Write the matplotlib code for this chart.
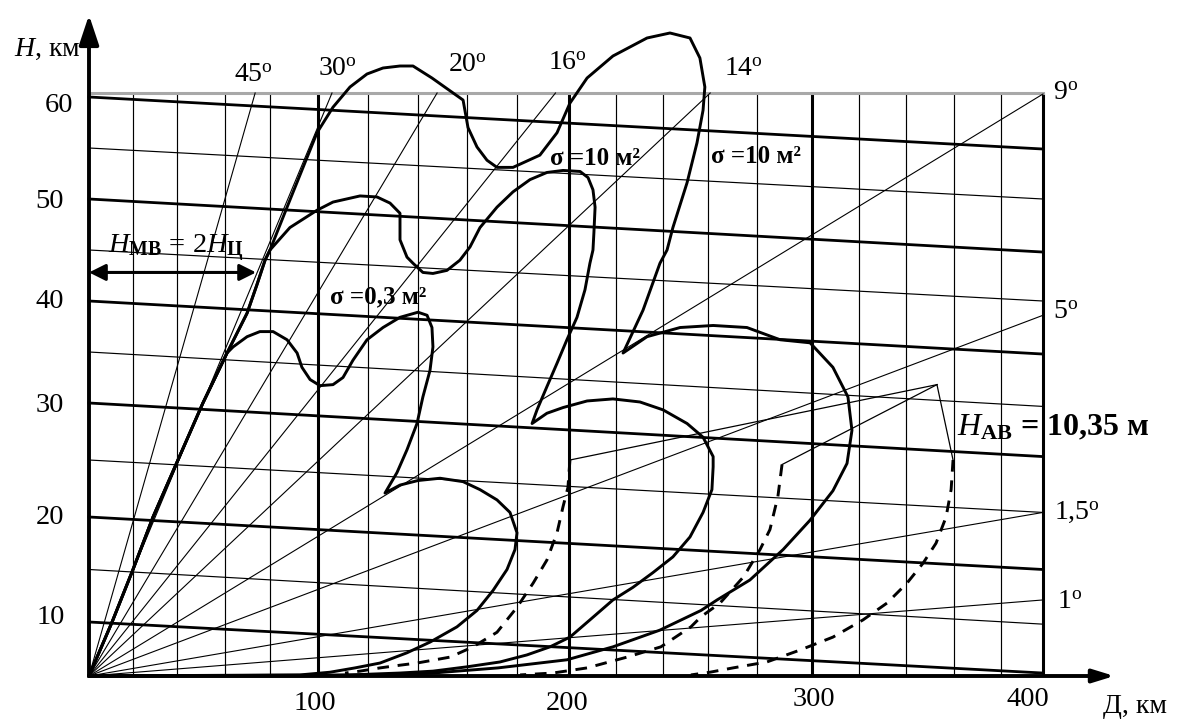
import numpy as np
import matplotlib.pyplot as plt

plt.rcParams['font.family'] = ['Liberation Serif', 'DejaVu Serif']
plt.rcParams['mathtext.fontset'] = 'custom'
plt.rcParams['mathtext.rm'] = 'Liberation Serif'
plt.rcParams['mathtext.it'] = 'Liberation Serif:italic'
plt.rcParams['mathtext.bf'] = 'Liberation Serif:bold'

# ---- values: Д (range) and H (height), km ----
d_ticks = [100, 200, 300, 400]
h_ticks = [10, 20, 30, 40, 50, 60]
d_grid = list(range(20, 400, 20))

# lines of equal height (value at Д=0 and at Д=400)
h_thick_left = [10, 20, 30, 40, 50, 60]
h_thick_right = [0.55, 15.0, 25.3, 34.8, 44.8, 54.9]
h_thin_left = [15, 25, 35, 45, 55]
h_thin_right = [9.6, 20.4, 29.7, 40.0, 50.0]
h_top = 60.4

# elevation rays
ray_names = ['45', '30', '20', '16', '14', '9', '5', '1,5', '1']
ray_d = [73.4, 105.6, 147.8, 194.8, 260.9, 400, 400, 400, 400]
ray_h = [60.4, 60.4, 60.4, 60.4, 60.4, 60.3, 38.6, 20.4, 12.1]

# common rising edge of all coverage zones
rise_d = [0, 10.5, 20, 29.1, 40.4, 50.8, 60.9]
rise_h = [0, 10, 15, 20, 25, 30, 34.9]

# zone sigma = 0.3 m2
s03_d = [63.6, 69.8, 75.5, 81.3, 87.1, 91.3, 93.3, 96.7, 100.8, 106, 110, 114,
         119.6, 126, 132.8, 140, 143.7, 145.7, 146.1, 144.9, 142, 139.6, 135.6,
         131.6, 126.8, 132.8, 140, 149, 158.4, 165.2, 172, 177.2, 180, 179.2,
         176, 170.4, 164, 155.9, 145, 135.6, 124.8, 114.8, 104.8, 92.5, 0]
s03_h = [35.5, 36.5, 37.0, 37.0, 36.2, 34.9, 33.5, 32.3, 31.7, 31.8, 32.5, 34.2,
         36.2, 37.4, 38.4, 38.9, 38.6, 37.4, 35.5, 33.2, 30.6, 28.2, 25.9,
         23.9, 22.1, 22.8, 23.2, 23.4, 23.1, 22.4, 21.5, 20.4, 18.5, 16.9,
         15.0, 13.0, 11.1, 9.1, 6.3, 4.3, 2.4, 1.5, 0.7, 0.2, 0]

# zone sigma = 10 m2 (inner)
s10a_d = [69.8, 74.2, 77.8, 80, 88.3, 99.6, 106, 116.8, 123.6, 128.8, 132.8,
          132.8, 135.6, 138, 142, 146.1, 151.8, 157.1, 161.2, 165.2, 172, 178.4,
          185, 191.5, 197.7, 204.7, 208.1, 210.2, 211.1, 210.6, 210.2, 208.9,
          206.8, 203.4, 199.2, 195.4, 191.5, 187.7, 185.8, 191.5, 197.7, 207.7,
          218.7, 230.2, 240, 250.7, 257.8, 262.1, 262.1, 261.6, 257.8, 252,
          244.4, 235.7, 227.2, 218.7, 208.9, 200.4, 192.7, 183.8, 173.2, 160,
          146.1, 132.8, 112.8, 92.5, 0]
s10a_h = [38.8, 41.6, 44.0, 45.0, 47.2, 48.9, 49.7, 50.3, 50.2, 49.6, 48.6,
          46.0, 44.3, 43.7, 42.8, 42.7, 43.0, 44.0, 45.3, 47.2, 49.2, 50.7,
          51.9, 52.6, 52.8, 52.7, 52.1, 50.9, 49.2, 46.7, 45.0, 43.7,
          41.1, 38.4, 36.2, 33.9, 31.6, 29.4, 28.2, 29.1, 29.6, 30.2,
          30.4, 30.1, 29.4, 28.2, 27.0, 25.3, 24.4, 22.4, 20.4, 18.1,
          16.2, 14.7, 13.3, 12.1, 10.2, 7.2, 5.4, 3.9, 2.6, 1.7,
          0.9, 0.55, 0.2, 0, 0]

# zone sigma = 10 m2 (outer)
s10b_d = [69.8, 74.2, 77.8, 80, 88.3, 99.6, 106, 112.8, 119.6, 126, 132.8, 138,
          145.7, 158.4, 160.4, 164, 168, 172, 178.4, 188.8, 195.4, 200.4, 207.7,
          218.7, 233.2, 243.1, 252, 256.4, 258.6, 257.8, 255.1, 250.7, 244.4,
          241.8, 238.7, 231.5, 223, 233.2, 247.6, 262.1, 275.9, 288.4, 299.3,
          308.9, 315.3, 317, 314.9, 308.9, 299.3, 289.5, 277.1, 263.7, 256.9,
          238.7, 218.7, 199.2, 172.4, 146.1, 132.8, 0]
s10b_h = [38.8, 41.6, 44.0, 45.0, 49.9, 56.5, 59.0, 61.0, 62.3, 62.9, 63.1, 63.1,
          61.9, 59.7, 57.0, 55.1, 53.8, 53.1, 53.1, 54.3, 56.5, 59.4, 61.9,
          64.1, 65.9, 66.4, 65.9, 63.9, 61.0, 58.7, 55.5, 51.6, 47.2,
          45.0, 43.7, 39.1, 34.9, 36.5, 37.4, 37.6, 37.4, 36.2, 35.9,
          33.5, 30.6, 27.6, 24.7, 22.3, 19.7, 16.9, 14.0, 12.1, 11.1,
          8.5, 5.4, 3.0, 1.5, 0.55, 0.2, 0]

# dashed zones for antenna height 10,35 m
dash1_d = [200.4, 199.6, 197.7, 195.4, 191.5, 186.2, 180, 172, 162.4, 153.1,
           139.6, 132.8, 124.8, 116.8, 110.8]
dash1_h = [25.0, 22.6, 20.9, 18.5, 15.9, 13.7, 11.4, 8.1, 5.4, 3.5,
           2.4, 2.0, 1.5, 0.9, 0.55]
dash2_d = [289.1, 287.6, 284.7, 281.1, 274.5, 264.9, 256.9, 252.4, 239.1, 224.7,
           207.7, 193.8, 181.2]
dash2_h = [24.6, 21.8, 18.8, 16.9, 14.3, 11.8, 10.5, 9.1, 5.4, 3.5,
           1.5, 0.55, 0.2]
dash3_d = [359.6, 358.8, 356.7, 352.5, 347.1, 340.4, 331.9, 321.7, 308.9, 295.6,
           283.6, 270.2, 260.8, 252.4]
dash3_h = [25.0, 22.4, 20.0, 17.5, 15.6, 13.7, 11.8, 10.2, 7.2, 4.8,
           2.6, 1.5, 0.7, 0.2]
leader_d, leader_h = 352.9, 31.8

# ---- hand-drawn scale of the original (km -> picture units) ----
grid_knots = [89, 133, 177, 225, 270, 318, 368, 418, 467, 517, 569, 616, 663,
              708, 757, 812, 859, 906, 954, 1001, 1043]
xk_km = np.r_[-1000, np.arange(0, 401, 20), 1400]
xk_u = np.r_[89 - 2200, grid_knots, 1043 + 2100]
yk_km = np.array([-1000, 0, 10, 20, 30, 40, 50, 60, 1000])
yk_u = np.array([46 - 5400, 46, 100, 205, 319, 421, 523, 625, 625 + 9400])


def fwd_x(v):
    return np.interp(v, xk_km, xk_u)


def inv_x(u):
    return np.interp(u, xk_u, xk_km)


def fwd_y(v):
    return np.interp(v, yk_km, yk_u)


def inv_y(u):
    return np.interp(u, yk_u, yk_km)


fig = plt.figure(figsize=(11.77, 7.22), dpi=100)
ax = fig.add_axes([0, 0, 1, 1])
ax.set_xscale('function', functions=(fwd_x, inv_x))
ax.set_yscale('function', functions=(fwd_y, inv_y))
ax.set_xlim(inv_x(0), inv_x(1177))
ax.set_ylim(inv_y(0), inv_y(722))
ax.axis('off')

# grid
ax.vlines([d for d in d_grid if d % 100], 0, h_top, colors='k', lw=0.85)
ax.vlines(d_ticks, 0, h_top, colors='k', lw=2.2)
for hl, hr in zip(h_thin_left, h_thin_right):
    ax.plot([0, 400], [hl, hr], color='k', lw=0.85)
for hl, hr in zip(h_thick_left, h_thick_right):
    ax.plot([0, 400], [hl, hr], color='k', lw=2.0)
ax.plot([0, 400], [h_top, h_top], color='#a8a8a8', lw=2.2)

# rays and their labels
ray_offsets = [(-2, 17), (5, 24), (30, 28), (12, 29), (33, 24),
               (23, 0), (23, 3), (34, 0), (27, -3)]
for name, d, h, off in zip(ray_names, ray_d, ray_h, ray_offsets):
    ax.plot([0, d], [0, h], color='k', lw=0.8)
    ax.annotate(name + r'$^{\mathrm{o}}$', xy=(d, h), xytext=off,
                textcoords='offset pixels', ha='center', va='center', fontsize=20)

# coverage zones
for dd, hh in [(s03_d, s03_h), (s10a_d, s10a_h), (s10b_d, s10b_h)]:
    ax.plot(rise_d + dd, rise_h + hh, color='k', lw=2.1, solid_joinstyle='round')
for dd, hh in [(dash1_d, dash1_h), (dash2_d, dash2_h), (dash3_d, dash3_h)]:
    ax.plot(dd, hh, color='k', lw=2.1, linestyle=(0, (4, 3)))
    ax.plot([leader_d, dd[0]], [leader_h, hh[0]], color='k', lw=0.9)

# axes with arrows
ax.annotate('', xy=(0, 68.2), xytext=(0, 0),
            arrowprops=dict(arrowstyle='-|>,head_length=0.9,head_width=0.3',
                            lw=2.8, color='k', shrinkA=0, shrinkB=0, mutation_scale=20))
ax.annotate('', xy=(434, 0), xytext=(0, 0),
            arrowprops=dict(arrowstyle='-|>,head_length=0.65,head_width=0.2',
                            lw=2.8, color='k', shrinkA=0, shrinkB=0, mutation_scale=20))

x_off = [(-3, -27), (-2, -27), (2, -24), (-15, -24)]
for d, off in zip(d_ticks, x_off):
    ax.annotate(str(d), xy=(d, 0), xytext=off, textcoords='offset pixels',
                ha='center', va='center', fontsize=20.5)
y_off = [(-38, 5), (-39, 0), (-39, -2), (-39, -1), (-39, -3), (-30, -8)]
for h, off in zip(h_ticks, y_off):
    ax.annotate(str(h), xy=(0, h), xytext=off, textcoords='offset pixels',
                ha='center', va='center', fontsize=20.5)

ax.text(-19.1, 64.8, r'$H$, км', ha='center', va='center', fontsize=20)
ax.text(443.8, -5.7, 'Д, км', ha='center', va='center', fontsize=20)

# annotations
ax.text(211, 54.0, 'σ =10 м²', ha='center', va='center', fontsize=18, fontweight='bold')
ax.text(279.6, 54.2, 'σ =10 м²', ha='center', va='center', fontsize=18, fontweight='bold')
ax.text(124, 40.4, 'σ =0,3 м²', ha='center', va='center', fontsize=18, fontweight='bold')

ax.text(8.6, 45.2, r'$H_{\mathbf{МВ}}$ = 2$H_{\mathbf{Ц}}$', ha='left', va='center',
        fontsize=20.5)
ax.annotate('', xy=(73.8, 42.8), xytext=(0, 42.8),
            arrowprops=dict(arrowstyle='<|-|>,head_length=0.5,head_width=0.25',
                            lw=2.2, color='k', shrinkA=0, shrinkB=0, mutation_scale=20))
ax.text(361.3, 27.8, r'$H_{\mathbf{АВ}}$ = 10,35 м', ha='left', va='center',
        fontsize=23, fontweight='bold')

plt.savefig('out.png', dpi=100)
